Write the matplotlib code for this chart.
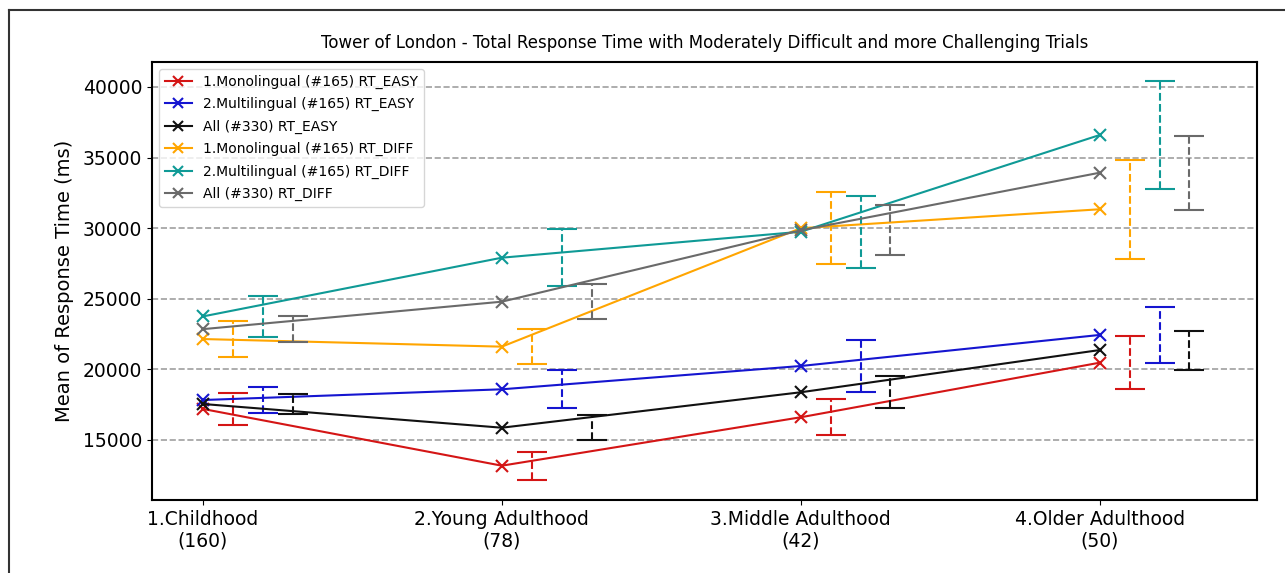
import matplotlib
matplotlib.use("Agg")
import matplotlib.pyplot as plt
from matplotlib.lines import Line2D
import numpy as np

groups = ['1.Childhood\n(160)', '2.Young Adulthood\n(78)',
          '3.Middle Adulthood\n(42)', '4.Older Adulthood\n(50)']

mono_easy = [17200, 13180, 16610, 20475]
multi_easy = [17830, 18590, 20240, 22440]
all_easy = [17550, 15870, 18380, 21370]
mono_diff = [22150, 21610, 30000, 31340]
multi_diff = [23750, 27910, 29750, 36600]
all_diff = [22850, 24795, 29850, 33930]

mono_easy_err = [1135, 1000, 1290, 1875]
multi_easy_err = [950, 1355, 1850, 2005]
all_easy_err = [710, 895, 1120, 1380]
mono_diff_err = [1275, 1225, 2540, 3500]
multi_diff_err = [1475, 2018, 2560, 3835]
all_diff_err = [945, 1250, 1760, 2620]

labels = ['1.Monolingual (#165) RT_EASY', '2.Multilingual (#165) RT_EASY',
          'All (#330) RT_EASY', '1.Monolingual (#165) RT_DIFF',
          '2.Multilingual (#165) RT_DIFF', 'All (#330) RT_DIFF']

series = [mono_easy, multi_easy, all_easy, mono_diff, multi_diff, all_diff]
errs = [mono_easy_err, multi_easy_err, all_easy_err,
        mono_diff_err, multi_diff_err, all_diff_err]
colors = ['#d41515', '#1515d0', '#111111', '#ffa500', '#0f9a96', '#6a6a6a']
offsets = [0.1, 0.2, 0.3, 0.1, 0.2, 0.3]

fig = plt.figure(figsize=(12.85, 5.73), dpi=100)
ax = fig.add_axes([0.1183, 0.1274, 0.978 - 0.1183, 0.8918 - 0.1274])

x = np.arange(len(groups))
for vals, err, c, off, lab in zip(series, errs, colors, offsets, labels):
    ax.plot(x, vals, color=c, marker='x', markersize=9, markeredgewidth=1.5,
            linewidth=1.5, label=lab)
    eb = ax.errorbar(x + off, vals, yerr=err, fmt='none', ecolor=c,
                     elinewidth=1.5, capsize=11, capthick=1.5)
    eb[2][0].set_linestyle('--')

ax.set_xlim(-0.17, 3.525)
ax.set_ylim(10750, 41770)
ax.set_yticks([15000, 20000, 25000, 30000, 35000, 40000])
ax.set_xticks(x)
ax.set_xticklabels(groups, fontsize=13.5)
ax.tick_params(axis='y', labelsize=13.5)
ax.yaxis.grid(True, linestyle='--', color='#a0a0a0', linewidth=1.2)
ax.set_axisbelow(True)
ax.set_ylabel('Mean of Response Time (ms)', fontsize=14, labelpad=6)
ax.set_title('Tower of London - Total Response Time with Moderately Difficult and more Challenging Trials',
             fontsize=12, pad=10)
for s in ax.spines.values():
    s.set_linewidth(1.5)

ax.legend(loc='upper left', fontsize=10, labelspacing=0.6, handlelength=2.0,
          markerscale=0.8)

# outer frame (left and top edges)
fig.add_artist(Line2D([0.007, 0.007], [0.0, 0.9825], transform=fig.transFigure,
                      color='#333333', linewidth=1.5))
fig.add_artist(Line2D([0.007, 1.0], [0.9825, 0.9825], transform=fig.transFigure,
                      color='#333333', linewidth=1.5))

fig.savefig('out.png', dpi=100)
